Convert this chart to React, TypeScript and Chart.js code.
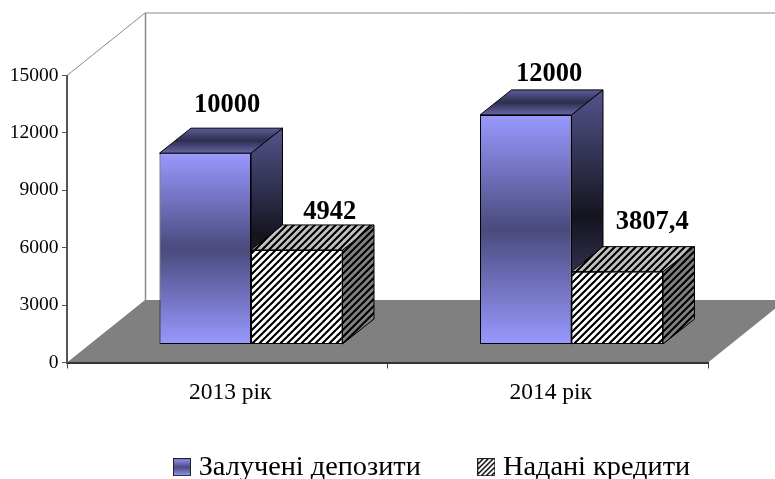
import React, { useEffect, useRef } from "react";
import { Chart, registerables } from "chart.js";

Chart.register(...registerables);

const categories = ["2013 рік", "2014 рік"];
const depositValues = [10000, 12000];
const creditValues = [4942, 3807.4];
const depositLabels = ["10000", "12000"];
const creditLabels = ["4942", "3807,4"];
const seriesNames = ["Залучені депозити", "Надані кредити"];
const yMax = 15000;
const yStep = 3000;

const FONT = '"Liberation Serif", "Times New Roman", serif';
// 3D projection of the plot box and of the bars
const WALL_DX = 78;
const WALL_DY = -62.5;
const BAR_SHIFT_X = 23.75;
const BAR_SHIFT_Y = -18;
const BAR_DX = 31.5;
const BAR_DY = -25;
// value label placement relative to bar front top-centre
const labelShift = [
  [[22, -48], [23.5, -41]],
  [[33, -38], [35, -49]],
];
const LEGEND_PADDING = 63;

function hatch(bg: string, period = 7, black = 3): HTMLCanvasElement {
  const c = document.createElement("canvas");
  c.width = period;
  c.height = period;
  const g = c.getContext("2d")!;
  g.fillStyle = bg;
  g.fillRect(0, 0, period, period);
  g.fillStyle = "#000000";
  for (let y = 0; y < period; y++) {
    for (let x = 0; x < period; x++) {
      if ((x + y) % period < black) g.fillRect(x, y, 1, 1);
    }
  }
  return c;
}

function legendIcon(kind: number): HTMLCanvasElement {
  const c = document.createElement("canvas");
  c.width = 18;
  c.height = 18;
  const g = c.getContext("2d")!;
  if (kind === 0) {
    const gr = g.createLinearGradient(0, 0, 0, 18);
    gr.addColorStop(0, "#9999ff");
    gr.addColorStop(0.5, "#4a4a7e");
    gr.addColorStop(1, "#9999ff");
    g.fillStyle = gr;
  } else {
    g.fillStyle = g.createPattern(hatch("#ffffff", 5, 2), "repeat")!;
  }
  g.fillRect(0, 0, 18, 18);
  g.strokeStyle = "#222222";
  g.lineWidth = 1;
  g.strokeRect(0.5, 0.5, 17, 17);
  return c;
}

const box3d = {
  id: "box3d",
  beforeLayout(chart: any) {
    const lg = chart.legend;
    if (lg && !lg.__wrapped) {
      const orig = lg.fit;
      lg.fit = function () {
        orig.call(this);
        this.height = 0;
      };
      lg.__wrapped = true;
    }
  },
  afterLayout(chart: any) {
    const lg = chart.legend;
    lg.left = 179.5 - LEGEND_PADDING;
    lg.right = 2000;
    lg.top = 453 - LEGEND_PADDING;
  },
  beforeDraw(chart: any) {
    const { ctx, chartArea: a } = chart;
    const right = a.right;
    ctx.save();
    // floor
    ctx.fillStyle = "#808080";
    ctx.beginPath();
    ctx.moveTo(a.left, a.bottom);
    ctx.lineTo(a.left + WALL_DX, a.bottom + WALL_DY);
    ctx.lineTo(right + WALL_DX, a.bottom + WALL_DY);
    ctx.lineTo(right, a.bottom);
    ctx.closePath();
    ctx.fill();
    // walls
    ctx.strokeStyle = "#8a8a8a";
    ctx.lineWidth = 1;
    ctx.beginPath();
    ctx.moveTo(a.left, a.top);
    ctx.lineTo(a.left + WALL_DX, a.top + WALL_DY);
    ctx.lineTo(right + WALL_DX, a.top + WALL_DY);
    ctx.stroke();
    ctx.beginPath();
    ctx.moveTo(a.left + WALL_DX + 0.5, a.top + WALL_DY);
    ctx.lineTo(a.left + WALL_DX + 0.5, a.bottom + WALL_DY);
    ctx.lineWidth = 1.5;
    ctx.stroke();
    ctx.restore();
  },
  beforeDatasetsDraw(chart: any) {
    const { ctx } = chart;
    ctx.save();
    ctx.translate(BAR_SHIFT_X, BAR_SHIFT_Y);
    const sidePat = ctx.createPattern(hatch("#808080"), "repeat");
    const topPat = ctx.createPattern(hatch("#c0c0c0"), "repeat");
    [0, 1].forEach((ds) => {
      chart.getDatasetMeta(ds).data.forEach((bar: any) => {
        const { x, y, base, width } = bar.getProps(["x", "y", "base", "width"], true);
        const l = x - width / 2;
        const r = x + width / 2;
        let sideFill: any = sidePat;
        let topFill: any = topPat;
        if (ds === 0) {
          const gs = ctx.createLinearGradient(0, y + BAR_DY, 0, base);
          gs.addColorStop(0, "#54548c");
          gs.addColorStop(0.5, "#14141f");
          gs.addColorStop(1, "#54548c");
          sideFill = gs;
          const gt = ctx.createLinearGradient(0, y + BAR_DY, 0, y);
          gt.addColorStop(0, "#5c5c9c");
          gt.addColorStop(0.5, "#2e2e4e");
          gt.addColorStop(1, "#6666aa");
          topFill = gt;
        }
        ctx.lineWidth = 1;
        ctx.strokeStyle = "#000000";
        ctx.lineJoin = "round";
        ctx.fillStyle = sideFill;
        ctx.beginPath();
        ctx.moveTo(r, y);
        ctx.lineTo(r + BAR_DX, y + BAR_DY);
        ctx.lineTo(r + BAR_DX, base + BAR_DY);
        ctx.lineTo(r, base);
        ctx.closePath();
        ctx.fill();
        ctx.stroke();
        ctx.fillStyle = topFill;
        ctx.beginPath();
        ctx.moveTo(l, y);
        ctx.lineTo(l + BAR_DX, y + BAR_DY);
        ctx.lineTo(r + BAR_DX, y + BAR_DY);
        ctx.lineTo(r, y);
        ctx.closePath();
        ctx.fill();
        ctx.stroke();
      });
    });
    ctx.restore();
  },
  beforeDatasetDraw(chart: any) {
    chart.ctx.save();
    chart.ctx.translate(BAR_SHIFT_X, BAR_SHIFT_Y);
  },
  afterDatasetDraw(chart: any) {
    chart.ctx.restore();
  },
  afterDatasetsDraw(chart: any) {
    const { ctx } = chart;
    ctx.save();
    ctx.fillStyle = "#000000";
    ctx.font = `bold 26.5px ${FONT}`;
    ctx.textAlign = "center";
    ctx.textBaseline = "middle";
    [depositLabels, creditLabels].forEach((labels, ds) => {
      chart.getDatasetMeta(ds).data.forEach((bar: any, i: number) => {
        const { x, y } = bar.getProps(["x", "y"], true);
        const [dx, dy] = labelShift[ds][i];
        ctx.fillText(labels[i], x + BAR_SHIFT_X + dx, y + BAR_SHIFT_Y + dy);
      });
    });
    ctx.restore();
  },
};

export default function App() {
  const ref = useRef<HTMLCanvasElement>(null);
  useEffect(() => {
    document.body.style.margin = "0";
    const canvas = ref.current!;
    const ctx2d = canvas.getContext("2d")!;
    const frontHatch = ctx2d.createPattern(hatch("#ffffff"), "repeat");
    const frontGradient = (c: any) => {
      const y = c.chart.scales.y;
      if (!y || c.raw === undefined) return "#9999ff";
      const g = c.chart.ctx.createLinearGradient(0, y.getPixelForValue(c.raw), 0, y.getPixelForValue(0));
      g.addColorStop(0, "#9999ff");
      g.addColorStop(0.5, "#4a4a7e");
      g.addColorStop(1, "#9999ff");
      return g;
    };
    const icons = [legendIcon(0), legendIcon(1)];
    const chart = new Chart(canvas, {
      type: "bar",
      data: {
        labels: categories,
        datasets: [
          {
            label: seriesNames[0],
            data: depositValues,
            backgroundColor: frontGradient,
            borderColor: "#000000",
            borderWidth: 1,
            borderSkipped: false,
            clip: false,
          },
          {
            label: seriesNames[1],
            data: creditValues,
            backgroundColor: frontHatch,
            borderColor: "#000000",
            borderWidth: 1,
            borderSkipped: false,
            clip: false,
          },
        ] as any,
      },
      options: {
        responsive: false,
        animation: false,
        layout: { padding: { left: 0, right: 67, top: 75.5, bottom: 0 } },
        datasets: { bar: { categoryPercentage: 0.571, barPercentage: 1 } },
        plugins: {
          tooltip: { enabled: false },
          title: { display: false },
          legend: {
            display: true,
            position: "bottom",
            align: "start",
            labels: {
              usePointStyle: true,
              pointStyleWidth: 5,
              boxHeight: 18,
              padding: LEGEND_PADDING,
              color: "#000000",
              font: { family: FONT, size: 28.3 },
              generateLabels: () =>
                seriesNames.map((text, i) => ({
                  text,
                  pointStyle: icons[i],
                  fillStyle: "#000",
                  strokeStyle: "#000",
                  lineWidth: 0,
                  datasetIndex: i,
                })),
            },
          },
        },
        scales: {
          x: {
            afterFit: (s: any) => {
              s.height = 116.5;
            },
            border: { color: "#333333", width: 2 },
            grid: { drawOnChartArea: false, drawTicks: true, tickLength: 6, tickColor: "#444444", tickWidth: 1 },
            ticks: {
              color: "#000000",
              padding: 10,
              labelOffset: 3,
              maxRotation: 0,
              font: { family: FONT, size: 23.5 },
            },
          },
          y: {
            min: 0,
            max: yMax,
            afterFit: (s: any) => {
              s.width = 67;
            },
            border: { color: "#555555", width: 2 },
            grid: { drawOnChartArea: false, drawTicks: true, tickLength: 5, tickColor: "#555555", tickWidth: 1 },
            ticks: {
              stepSize: yStep,
              color: "#000000",
              padding: 3.5,
              font: { family: FONT, size: 19.5 },
              callback: (v: any) => String(v),
            },
          },
        },
      } as any,
      plugins: [box3d],
    });
    return () => chart.destroy();
  }, []);
  return <canvas ref={ref} width={775} height={479} style={{ display: "block" }} />;
}
